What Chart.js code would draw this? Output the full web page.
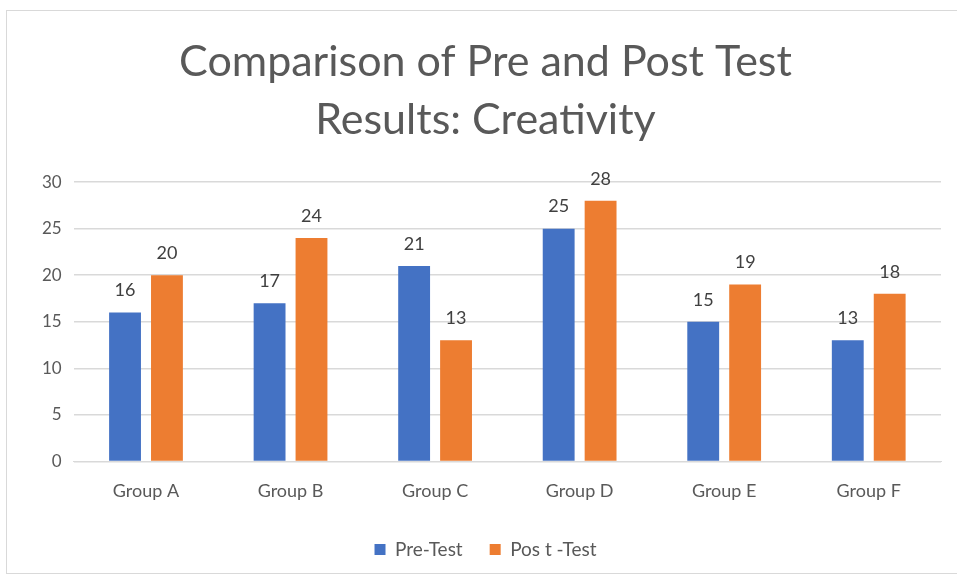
<!DOCTYPE html>
<html>
<head>
<meta charset="utf-8">
<script src="https://cdn.jsdelivr.net/npm/chart.js@4.4.0/dist/chart.umd.min.js"></script>
<style>
  html, body { margin: 0; padding: 0; background: #fff; }
  #box {
    position: absolute; left: 6px; top: 10px; width: 955px; height: 564px;
    border: 1px solid #d9d9d9; box-sizing: border-box;
  }
</style>
</head>
<body>
<div id="box"><canvas id="chart-1"></canvas></div>
<script>
const categories = ['Group A', 'Group B', 'Group C', 'Group D', 'Group E', 'Group F'];
const preTest = [16, 17, 21, 25, 15, 13];
const postTest = [20, 24, 13, 28, 19, 18];
const yTicks = [0, 5, 10, 15, 20, 25, 30];

const textGray = '#595959';

// values above each bar
const valueLabels = {
    id: 'valueLabels',
    afterDatasetsDraw(chart) {
        const ctx = chart.ctx;
        ctx.save();
        ctx.font = '18px Lato';
        ctx.fillStyle = '#404040';
        ctx.textAlign = 'center';
        ctx.textBaseline = 'bottom';
        chart.data.datasets.forEach((ds, i) => {
            chart.getDatasetMeta(i).data.forEach((bar, j) => {
                ctx.fillText(ds.data[j], bar.x, bar.y - 13);
            });
        });
        ctx.restore();
    }
};

const ctx = document.getElementById('chart-1').getContext('2d');
new Chart(ctx, {
    type: 'bar',
    data: {
        labels: categories,
        datasets: [
            { label: 'Pre-Test', data: preTest, backgroundColor: '#4472C4' },
            { label: 'Pos t -Test', data: postTest, backgroundColor: '#ED7D31' }
        ]
    },
    options: {
        responsive: true,
        maintainAspectRatio: false,
        animation: false,
        categoryPercentage: 0.58,
        barPercentage: 0.76,
        layout: { padding: { left: 23, right: 19, top: 8, bottom: 4 } },
        plugins: {
            title: {
                display: true,
                text: ['Comparison of Pre and Post Test', 'Results: Creativity'],
                color: textGray,
                font: { family: 'Lato', size: 43, weight: 'normal', lineHeight: 1.35 },
                padding: { top: 14, bottom: 33 }
            },
            legend: {
                position: 'bottom',
                labels: {
                    color: textGray,
                    font: { family: 'Lato', size: 19 },
                    boxWidth: 11, boxHeight: 11,
                    padding: 27
                }
            },
            tooltip: { enabled: false }
        },
        scales: {
            x: {
                grid: { display: false },
                border: { color: '#d9d9d9' },
                ticks: { color: textGray, font: { family: 'Lato', size: 18 }, padding: 11 }
            },
            y: {
                min: 0, max: 30,
                afterBuildTicks: (axis) => { axis.ticks = yTicks.map(v => ({ value: v })); },
                grid: { color: '#d9d9d9', lineWidth: 1.5, drawTicks: false },
                border: { display: false },
                ticks: { color: textGray, font: { family: 'Lato', size: 17 }, padding: 12 }
            }
        }
    },
    plugins: [valueLabels]
});
</script>
</body>
</html>
